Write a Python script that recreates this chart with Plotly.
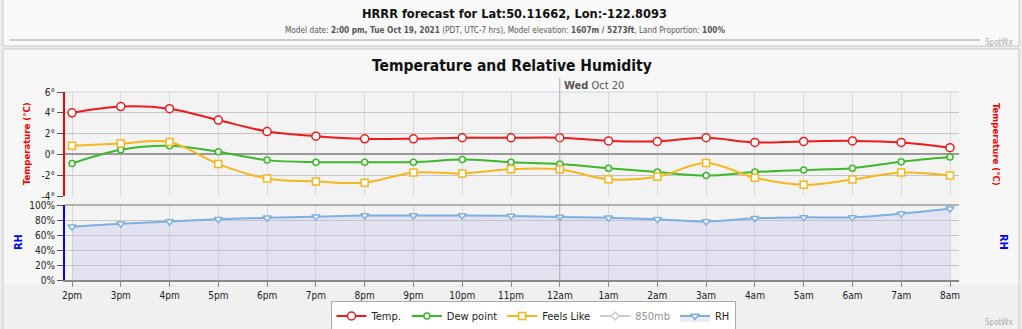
import plotly.graph_objects as go

# ---------------- data ----------------
hours = ["2pm", "3pm", "4pm", "5pm", "6pm", "7pm", "8pm", "9pm", "10pm", "11pm",
         "12am", "1am", "2am", "3am", "4am", "5am", "6am", "7am", "8am"]
temp = [4.0, 4.6, 4.4, 3.3, 2.2, 1.75, 1.5, 1.5, 1.6, 1.6, 1.6, 1.3, 1.25, 1.6,
        1.15, 1.25, 1.3, 1.15, 0.65]
dew_point = [-0.87, 0.45, 0.82, 0.25, -0.55, -0.75, -0.75, -0.75, -0.5, -0.75,
             -0.93, -1.32, -1.7, -2.03, -1.7, -1.5, -1.32, -0.7, -0.25]
feels_like = [0.84, 1.05, 1.2, -0.93, -2.32, -2.6, -2.72, -1.74, -1.84, -1.42,
              -1.45, -2.38, -2.15, -0.83, -2.25, -2.93, -2.42, -1.74, -2.03]
rh = [71, 75, 78, 81, 83, 84.5, 86, 86, 86, 85.5, 84, 83, 81, 78, 82.3, 83.5,
      83.5, 88.5, 95]
# 850mb series is hidden in the reference (legend only): no visible values
mb850 = [None, None, None, None, None, None, None, None, None, None,
         None, None, None, None, None, None, None, None, None]

temp_ticks = [-4, -2, 0, 2, 4, 6]
temp_tick_labels = ["-4°", "-2°", "0°", "2°", "4°", "6°"]
rh_ticks = [0, 20, 40, 60, 80, 100]
rh_tick_labels = ["0%", "20%", "40%", "60%", "80%", "100%"]
x = list(range(len(hours)))

# ---------------- layout helpers (pixel -> paper) ----------------
W, H = 1022, 329
PL, PR, PT, PB = 65, 959, 92, 280
HOUR_PX = (950 - 72) / 18.0


def fx(px):
    return (px - PL) / (PR - PL)


def fy(py):
    return (PB - py) / (PB - PT)


TEMP_DOMAIN = [fy(196), 1.0]
RH_DOMAIN = [0.0, fy(205)]

RED = "#f01a1a"
GREEN = "#3db82a"
YELLOW = "#f5b71e"
BLUE_RH = "#7fb0e2"
GRAY = "#999999"
FONT = "DejaVu Sans Condensed"

fig = go.Figure()

fig.add_trace(go.Scatter(
    x=x, y=temp, name="Temp.", mode="lines+markers", line_shape="spline",
    line=dict(color=RED, width=2),
    marker=dict(symbol="circle", size=8, color="white", line=dict(color=RED, width=1.5)),
    xaxis="x", yaxis="y"))
fig.add_trace(go.Scatter(
    x=x, y=dew_point, name="Dew point", mode="lines+markers", line_shape="spline",
    line=dict(color=GREEN, width=2),
    marker=dict(symbol="circle", size=6, color="white", line=dict(color=GREEN, width=1.5)),
    xaxis="x", yaxis="y"))
fig.add_trace(go.Scatter(
    x=x, y=feels_like, name="Feels Like", mode="lines+markers", line_shape="spline",
    line=dict(color=YELLOW, width=2),
    marker=dict(symbol="square", size=7, color="white", line=dict(color=YELLOW, width=1.5)),
    xaxis="x", yaxis="y"))
fig.add_trace(go.Scatter(
    x=x, y=mb850, name="850mb", mode="lines+markers", visible="legendonly",
    line=dict(color=GRAY, width=2),
    marker=dict(symbol="diamond", size=6, color="white", line=dict(color=GRAY, width=1.5)),
    xaxis="x", yaxis="y"))
fig.add_trace(go.Scatter(
    x=x, y=rh, name="RH", mode="lines+markers", line_shape="spline",
    fill="tozeroy", fillcolor="rgba(190,190,240,0.30)",
    line=dict(color=BLUE_RH, width=2),
    marker=dict(symbol="triangle-down", size=7, color="white", line=dict(color=BLUE_RH, width=1.5)),
    xaxis="x", yaxis="y2"))

tickfont = dict(family=FONT, size=10, color="#222222")

fig.update_layout(
    width=W, height=H,
    margin=dict(l=PL, r=W - PR, t=PT, b=H - PB, autoexpand=False),
    paper_bgcolor="#ececec",
    plot_bgcolor="rgba(0,0,0,0)",
    showlegend=True,
    legend=dict(orientation="h", xref="container", yref="container",
                x=533 / W, xanchor="center",
                y=1 - 316 / H, yanchor="middle",
                bgcolor="white", bordercolor="#aaaaaa", borderwidth=1,
                font=dict(family=FONT, size=11, color="#222222"),
                itemwidth=30, tracegroupgap=0),
    xaxis=dict(domain=[0, 1], anchor="y2", automargin=False,
               range=[-(72 - PL) / HOUR_PX, 18 + (PR - 950) / HOUR_PX],
               tickmode="array", tickvals=x, ticktext=hours, tickfont=tickfont,
               showgrid=True, gridcolor="#d9d9d9", gridwidth=1,
               ticks="outside", ticklen=5, tickcolor="#888888",
               showline=True, linecolor="#888888", linewidth=1.5, zeroline=False),
    yaxis=dict(domain=TEMP_DOMAIN, anchor="x", range=[-4, 6], automargin=False,
               tickmode="array", tickvals=temp_ticks, ticktext=temp_tick_labels,
               tickfont=tickfont,
               showgrid=True, gridcolor="#c4c4c4", zeroline=True, zerolinecolor="#9a9a9a",
               zerolinewidth=1.5, ticks="outside", ticklen=6, tickcolor="#555555",
               showline=True, linecolor="#ff0000", linewidth=2),
    yaxis3=dict(domain=TEMP_DOMAIN, overlaying="y", side="right", anchor="x",
                range=[-4, 6], automargin=False,
                tickmode="array", tickvals=temp_ticks, ticktext=temp_tick_labels,
                tickfont=tickfont,
                showgrid=False, zeroline=False, ticks="outside", ticklen=6,
                tickcolor="#555555", showline=True, linecolor="#ff0000", linewidth=2),
    yaxis2=dict(domain=RH_DOMAIN, anchor="x", range=[0, 100], automargin=False,
                tickmode="array", tickvals=rh_ticks, ticktext=rh_tick_labels,
                tickfont=tickfont,
                showgrid=True, gridcolor="#c4c4c4", zeroline=False,
                ticks="outside", ticklen=6, tickcolor="#555555",
                showline=True, linecolor="#0000ff", linewidth=2),
    yaxis4=dict(domain=RH_DOMAIN, overlaying="y2", side="right", anchor="x",
                range=[0, 100], automargin=False,
                tickmode="array", tickvals=rh_ticks, ticktext=rh_tick_labels,
                tickfont=tickfont,
                showgrid=False, zeroline=False, ticks="outside", ticklen=6,
                tickcolor="#555555", showline=True, linecolor="#0000ff", linewidth=2),
)

shapes = [
    # top header panel
    dict(type="rect", xref="paper", yref="paper", x0=fx(3), x1=fx(1019), y0=fy(46), y1=fy(-2),
         fillcolor="#fafafa", line=dict(color="#c8c8c8", width=1), layer="below"),
    # chart panel
    dict(type="rect", xref="paper", yref="paper", x0=fx(3), x1=fx(1019), y0=fy(335), y1=fy(49),
         fillcolor="#f7f7f7", line=dict(color="#c8c8c8", width=1), layer="below"),
    # lower region of chart panel
    dict(type="rect", xref="paper", yref="paper", x0=fx(4), x1=fx(1018), y0=fy(334), y1=fy(284),
         fillcolor="#f0f0f0", line=dict(width=0), layer="below"),
    # plot background
    dict(type="rect", xref="paper", yref="paper", x0=0, x1=1, y0=0, y1=1,
         fillcolor="#f3f3f3", line=dict(width=0), layer="below"),
    # header separator
    dict(type="line", xref="paper", yref="paper", x0=fx(10), x1=fx(980), y0=fy(40), y1=fy(40),
         line=dict(color="#cccccc", width=2)),
    # top border of plot area (light blue)
    dict(type="line", xref="paper", yref="paper", x0=0, x1=1, y0=1, y1=1,
         line=dict(color="#c6d6e8", width=1)),
    # 100% line
    dict(type="line", xref="paper", yref="paper", x0=0, x1=1, y0=RH_DOMAIN[1], y1=RH_DOMAIN[1],
         line=dict(color="#9a9a9a", width=1.5)),
    # day divider
    dict(type="line", xref="x", yref="paper", x0=10, x1=10, y0=0, y1=fy(78),
         line=dict(color="#b0b0b0", width=1)),
]
fig.update_layout(shapes=shapes)

ann = [
    dict(text="<b>HRRR forecast for Lat:50.11662, Lon:-122.8093</b>", x=fx(514), y=fy(13),
         font=dict(family=FONT, size=12.7, color="#111111")),
    dict(text="Model date: <b>2:00 pm, Tue Oct 19, 2021</b> (PDT, UTC-7 hrs), Model elevation: "
              "<b>1607m / 5273ft</b>, Land Proportion: <b>100%</b>",
         x=fx(505), y=fy(30), font=dict(family=FONT, size=8.2, color="#555555")),
    dict(text="SpotWx", x=fx(1015), y=fy(42), xanchor="right",
         font=dict(family=FONT, size=8, color="#aaaaaa")),
    dict(text="SpotWx", x=fx(1015), y=fy(322), xanchor="right",
         font=dict(family=FONT, size=8, color="#aaaaaa")),
    dict(text="<b>Temperature and Relative Humidity</b>", x=fx(512), y=fy(66),
         font=dict(family=FONT, size=15.5, color="#111111")),
    dict(text="<b>Wed</b> Oct 20", x=fx(562), y=fy(85), xanchor="left",
         font=dict(family=FONT, size=11, color="#555555")),
    dict(text="<b>Temperature (°C)</b>", x=fx(26), y=fy(144), textangle=-90,
         font=dict(family=FONT, size=9.5, color="#ff0000")),
    dict(text="<b>Temperature (°C)</b>", x=fx(997), y=fy(144), textangle=90,
         font=dict(family=FONT, size=9.5, color="#ff0000")),
    dict(text="<b>RH</b>", x=fx(18), y=fy(242), textangle=-90,
         font=dict(family=FONT, size=11, color="#0000ff")),
    dict(text="<b>RH</b>", x=fx(1004), y=fy(242), textangle=90,
         font=dict(family=FONT, size=11, color="#0000ff")),
]
for a in ann:
    a.setdefault("xanchor", "center")
    a.update(xref="paper", yref="paper", yanchor="middle", showarrow=False)
fig.update_layout(annotations=ann)

fig.write_html("out.html")
